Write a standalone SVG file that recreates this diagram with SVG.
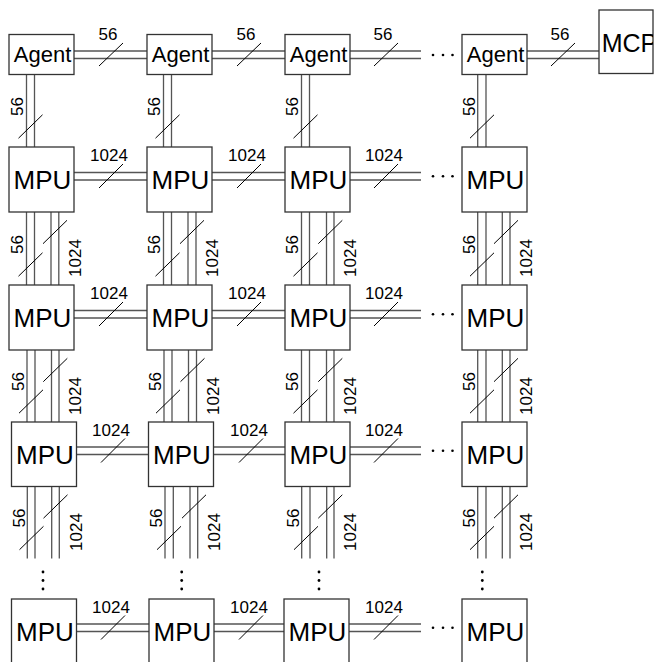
<svg xmlns="http://www.w3.org/2000/svg" width="655" height="662" viewBox="0 0 655 662">
<defs>
<style>
.box{fill:#fff;stroke:#333;stroke-width:1.3}
.ln{stroke:#555;stroke-width:1.3;fill:none}
.sl{stroke:#000;stroke-width:1;fill:none}
.lbl{font-family:"Liberation Sans",Arial,sans-serif;font-size:17px;fill:#000}
.ag{font-family:"Liberation Sans",Arial,sans-serif;font-size:22px;fill:#000;text-anchor:middle}
.mp{font-family:"Liberation Sans",Arial,sans-serif;font-size:26px;fill:#000;text-anchor:middle}
.dot{fill:#000}
</style>
<clipPath id="mcpclip"><rect x="599" y="10" width="54" height="64"/></clipPath>
</defs>
<rect width="655" height="662" fill="#fff"/>
<g id="connectors">
<!-- Agent row horizontal -->
<path class="ln" d="M74,51H147M74,58.5H147M212,51H285M212,58.5H285M350,51H421M350,58.5H421M527,51H599M527,58.5H599"/>
<path class="sl" d="M99,66L123,43M237,66L261,43M374,66L398,43M551,66L575,43"/>
<text class="lbl" x="108" y="40" text-anchor="middle">56</text>
<text class="lbl" x="246" y="40" text-anchor="middle">56</text>
<text class="lbl" x="383" y="40" text-anchor="middle">56</text>
<text class="lbl" x="560" y="40" text-anchor="middle">56</text>
<circle class="dot" cx="433" cy="55" r="1.3"/><circle class="dot" cx="443" cy="55" r="1.3"/><circle class="dot" cx="452.5" cy="55" r="1.3"/>
<!-- MPU rows horizontal -->
<path class="ln" d="M74,172.5H147M74,180H147M212,172.5H285M212,180H285M350,172.5H421M350,180H421"/>
<path class="ln" d="M74,310.5H147M74,318H147M212,310.5H285M212,318H285M350,310.5H421M350,318H421"/>
<path class="ln" d="M76.5,447H148.5M76.5,454.5H148.5M213.5,447H285M213.5,454.5H285M350,447H421M350,454.5H421"/>
<path class="ln" d="M76.5,624H149M76.5,631.5H149M214,624H284M214,631.5H284M349,624H421M349,631.5H421"/>
<path class="sl" d="M99,188L123,164M237,188L261,164M374,188L398,164"/>
<path class="sl" d="M99,326L123,302M237,326L261,302M374,326L398,302"/>
<path class="sl" d="M101,462.5L125,438.5M239,462.5L263,438.5M374,462.5L398,438.5"/>
<path class="sl" d="M101,639.5L125,615.5M239,639.5L263,615.5M374,639.5L398,615.5"/>
<g class="lbl" text-anchor="middle">
<text x="109" y="161">1024</text><text x="247" y="161">1024</text><text x="384" y="161">1024</text>
<text x="109" y="299">1024</text><text x="247" y="299">1024</text><text x="384" y="299">1024</text>
<text x="111" y="435.5">1024</text><text x="249" y="435.5">1024</text><text x="384" y="435.5">1024</text>
<text x="111" y="612.5">1024</text><text x="249" y="612.5">1024</text><text x="384" y="612.5">1024</text>
</g>
<g class="dot">
<circle cx="433" cy="176.3" r="1.3"/><circle cx="443" cy="176.3" r="1.3"/><circle cx="452.5" cy="176.3" r="1.3"/>
<circle cx="433" cy="314.3" r="1.3"/><circle cx="443" cy="314.3" r="1.3"/><circle cx="452.5" cy="314.3" r="1.3"/>
<circle cx="433" cy="450.8" r="1.3"/><circle cx="443" cy="450.8" r="1.3"/><circle cx="452.5" cy="450.8" r="1.3"/>
<circle cx="433" cy="627.8" r="1.3"/><circle cx="443" cy="627.8" r="1.3"/><circle cx="452.5" cy="627.8" r="1.3"/>
</g>
<!-- Agent to MPU vertical -->
<path class="ln" d="M26.5,74.5V147M34.5,74.5V147M163.5,74.5V147M171.5,74.5V147M301.5,74.5V147M309.5,74.5V147M477.7,74.5V147M486,74.5V147"/>
<path class="sl" d="M18.5,138.2L42.5,114.8M155.5,138.2L179.5,114.8M293.5,138.2L317.5,114.8M470,138.2L494,114.8"/>
<g class="lbl" text-anchor="middle">
<text transform="translate(23,106.5) rotate(-90)" dy="0">56</text>
<text transform="translate(160,106.5) rotate(-90)">56</text>
<text transform="translate(298,106.5) rotate(-90)">56</text>
<text transform="translate(474.5,106.5) rotate(-90)">56</text>
</g>
<!-- MPU row1 to row2 -->
<path class="ln" d="M26.5,212V285M34.5,212V285M51,212V285M58.8,212V285M163.5,212V285M171.5,212V285M188,212V285M196,212V285M301.5,212V285M309.5,212V285M326.5,212V285M334,212V285M477.7,212V285M486,212V285M502.3,212V285M510,212V285"/>
<path class="sl" d="M18.5,276.2L42.5,252.8M155.5,276.2L179.5,252.8M293.5,276.2L317.5,252.8M470,276.2L494,252.8"/>
<path class="sl" d="M43,243.7L67,220.3M180,243.7L204,220.3M318.3,243.7L342.3,220.3M494,243.7L518,220.3"/>
<g class="lbl" text-anchor="middle">
<text transform="translate(23,244.5) rotate(-90)">56</text>
<text transform="translate(160,244.5) rotate(-90)">56</text>
<text transform="translate(298,244.5) rotate(-90)">56</text>
<text transform="translate(474.5,244.5) rotate(-90)">56</text>
<text transform="translate(80.5,258) rotate(-90)">1024</text>
<text transform="translate(218,258) rotate(-90)">1024</text>
<text transform="translate(356,258) rotate(-90)">1024</text>
<text transform="translate(532,258) rotate(-90)">1024</text>
</g>
<!-- MPU row2 to row3 -->
<path class="ln" d="M27,350V422M35,350V422M51.5,350V422M59,350V422M164,350V422M172,350V422M188.5,350V422M196.5,350V422M301.5,350V422M309.5,350V422M326.5,350V422M334,350V422M477.7,350V422M486,350V422M502.3,350V422M510,350V422"/>
<path class="sl" d="M19,413.2L43,389.8M156,413.2L180,389.8M293.5,413.2L317.5,389.8M470,413.2L494,389.8"/>
<path class="sl" d="M43.3,381.7L67.3,358.3M180.5,381.7L204.5,358.3M318.3,381.7L342.3,358.3M494,381.7L518,358.3"/>
<g class="lbl" text-anchor="middle">
<text transform="translate(23.5,381.5) rotate(-90)">56</text>
<text transform="translate(160.5,381.5) rotate(-90)">56</text>
<text transform="translate(298,381.5) rotate(-90)">56</text>
<text transform="translate(474.5,381.5) rotate(-90)">56</text>
<text transform="translate(81,396) rotate(-90)">1024</text>
<text transform="translate(218.5,396) rotate(-90)">1024</text>
<text transform="translate(356,396) rotate(-90)">1024</text>
<text transform="translate(532,396) rotate(-90)">1024</text>
</g>
<!-- below row3 -->
<path class="ln" d="M27.3,486.5V558.5M35,486.5V558.5M51.7,486.5V558.5M59.3,486.5V558.5M165,486.5V558.5M173.3,486.5V558.5M190,486.5V558.5M197.7,486.5V558.5M301.7,486.5V558.5M310,486.5V558.5M326.7,486.5V558.5M334,486.5V558.5M477.7,486.5V558.5M486,486.5V558.5M502.3,486.5V558.5M510,486.5V558.5"/>
<path class="sl" d="M19.5,549.7L43.5,526.3M157,549.7L181,526.3M294,549.7L318,526.3M470,549.7L494,526.3"/>
<path class="sl" d="M43.5,518.2L67.5,494.8M182,518.2L206,494.8M318.3,518.2L342.3,494.8M494,518.2L518,494.8"/>
<g class="lbl" text-anchor="middle">
<text transform="translate(24.5,518) rotate(-90)">56</text>
<text transform="translate(162,518) rotate(-90)">56</text>
<text transform="translate(298.5,518) rotate(-90)">56</text>
<text transform="translate(474.5,518) rotate(-90)">56</text>
<text transform="translate(81.5,532) rotate(-90)">1024</text>
<text transform="translate(219.5,532) rotate(-90)">1024</text>
<text transform="translate(356,532) rotate(-90)">1024</text>
<text transform="translate(532,532) rotate(-90)">1024</text>
</g>
<g class="dot">
<circle cx="43" cy="572" r="1.4"/><circle cx="43" cy="580.5" r="1.4"/><circle cx="43" cy="589" r="1.4"/>
<circle cx="181.7" cy="572" r="1.4"/><circle cx="181.7" cy="580.5" r="1.4"/><circle cx="181.7" cy="589" r="1.4"/>
<circle cx="319" cy="572" r="1.4"/><circle cx="319" cy="580.5" r="1.4"/><circle cx="319" cy="589" r="1.4"/>
<circle cx="482.3" cy="572" r="1.4"/><circle cx="482.3" cy="580.5" r="1.4"/><circle cx="482.3" cy="589" r="1.4"/>
</g>
</g>
<g id="agent1"><rect class="box" x="9" y="34.5" width="65" height="40"/><text class="ag" x="42.5" y="61.7">Agent</text></g>
<g id="agent2"><rect class="box" x="147" y="34.5" width="65" height="40"/><text class="ag" x="180.5" y="61.7">Agent</text></g>
<g id="agent3"><rect class="box" x="285" y="34.5" width="65" height="40"/><text class="ag" x="318.5" y="61.7">Agent</text></g>
<g id="agent4"><rect class="box" x="462" y="34.5" width="65" height="40"/><text class="ag" x="495.5" y="61.7">Agent</text></g>
<g id="mcp"><rect class="box" x="599" y="10" width="54" height="63.5"/><text clip-path="url(#mcpclip)" x="601.7" y="52" style="font-family:'Liberation Sans',Arial,sans-serif;font-size:25px;fill:#000">MCP</text></g>
<g id="mpu-1-1"><rect class="box" x="9" y="147" width="65" height="65"/><text class="mp" x="42.5" y="189.3">MPU</text></g>
<g id="mpu-1-2"><rect class="box" x="147" y="147" width="65" height="65"/><text class="mp" x="180.5" y="189.3">MPU</text></g>
<g id="mpu-1-3"><rect class="box" x="285" y="147" width="65" height="65"/><text class="mp" x="318.5" y="189.3">MPU</text></g>
<g id="mpu-1-4"><rect class="box" x="462" y="147" width="65" height="65"/><text class="mp" x="495.5" y="189.3">MPU</text></g>
<g id="mpu-2-1"><rect class="box" x="9" y="285" width="65" height="65"/><text class="mp" x="42.5" y="327.3">MPU</text></g>
<g id="mpu-2-2"><rect class="box" x="147" y="285" width="65" height="65"/><text class="mp" x="180.5" y="327.3">MPU</text></g>
<g id="mpu-2-3"><rect class="box" x="285" y="285" width="65" height="65"/><text class="mp" x="318.5" y="327.3">MPU</text></g>
<g id="mpu-2-4"><rect class="box" x="462" y="285" width="65" height="65"/><text class="mp" x="495.5" y="327.3">MPU</text></g>
<g id="mpu-3-1"><rect class="box" x="11.5" y="422" width="65" height="64.5"/><text class="mp" x="45" y="463.5">MPU</text></g>
<g id="mpu-3-2"><rect class="box" x="148.5" y="422" width="65" height="64.5"/><text class="mp" x="182" y="463.5">MPU</text></g>
<g id="mpu-3-3"><rect class="box" x="285" y="422" width="65" height="64.5"/><text class="mp" x="318.5" y="463.5">MPU</text></g>
<g id="mpu-3-4"><rect class="box" x="462" y="422" width="65" height="64.5"/><text class="mp" x="495.5" y="463.5">MPU</text></g>
<g id="mpu-4-1"><rect class="box" x="11.5" y="599" width="65" height="65"/><text class="mp" x="45" y="641">MPU</text></g>
<g id="mpu-4-2"><rect class="box" x="149" y="599" width="65" height="65"/><text class="mp" x="182.5" y="641">MPU</text></g>
<g id="mpu-4-3"><rect class="box" x="284" y="599" width="65" height="65"/><text class="mp" x="317.5" y="641">MPU</text></g>
<g id="mpu-4-4"><rect class="box" x="462" y="599" width="65" height="65"/><text class="mp" x="495.5" y="641">MPU</text></g>
</svg>
